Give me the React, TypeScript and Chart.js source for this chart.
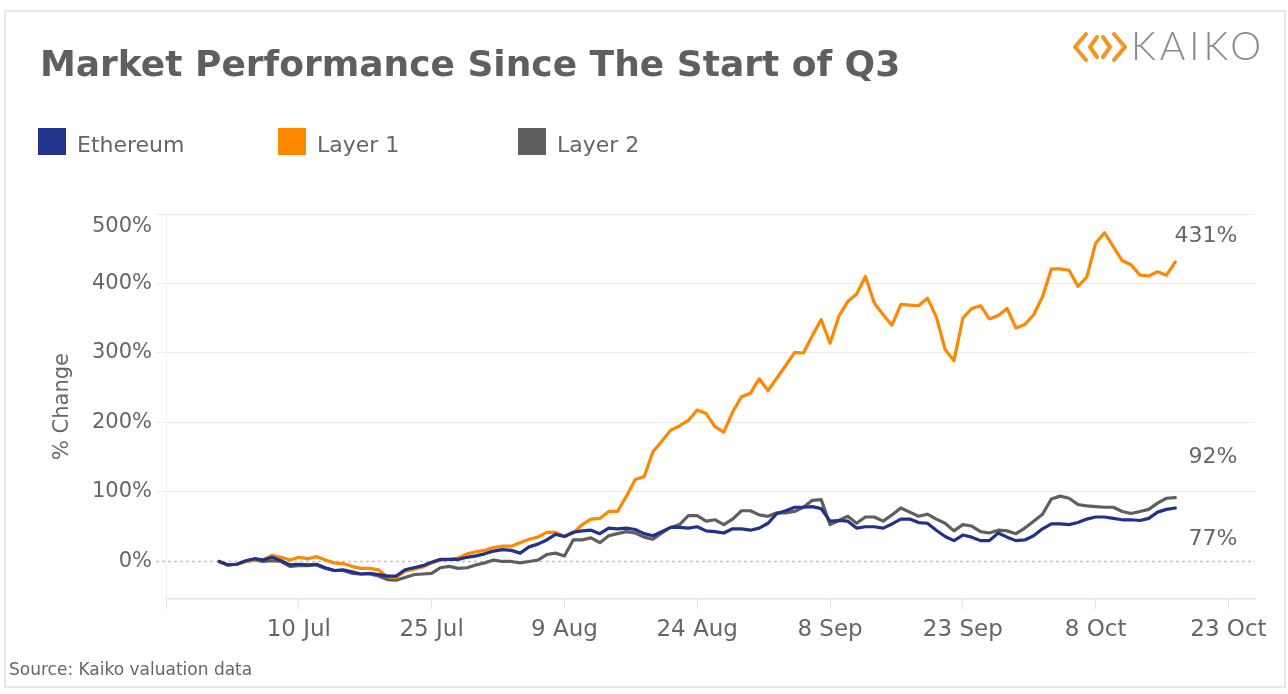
import React, { useEffect, useRef } from 'react';
import { Chart, registerables } from 'chart.js';

Chart.register(...registerables);

// Day offsets relative to 1 Jul (day 0); data are daily from 1 Jul to 17 Oct
const tickDays = [-6, 9, 24, 39, 54, 69, 84, 99, 114];
const tickLabels = ['', '10 Jul', '25 Jul', '9 Aug', '24 Aug', '8 Sep', '23 Sep', '8 Oct', '23 Oct'];
const yTicks = [0, 100, 200, 300, 400, 500];

const seriesNames = ['Ethereum', 'Layer 1', 'Layer 2'];
const seriesColors = ['#22318a', '#ff8800', '#5f5f5f'];

const ethereum = [
  0, -5, -4, 1, 4, 2, 6, 1, -5, -4,
  -5, -4, -9, -13, -12, -15, -18, -17, -19, -21,
  -21, -12, -9, -6, -1, 3, 3, 3, 6, 8,
  11, 15, 17, 16, 12, 21, 25, 31, 39, 36,
  42, 44, 45, 40, 48, 47, 48, 46, 40, 37,
  43, 49, 49, 48, 50, 44, 43, 41, 47, 47,
  45, 48, 55, 69, 73, 78, 78, 79, 76, 58,
  59, 58, 48, 50, 50, 48, 54, 61, 61, 56,
  55, 45, 36, 30, 38, 35, 30, 30, 41, 35,
  30, 31, 37, 47, 54, 54, 53, 56, 61, 64,
  64, 62, 60, 60, 59, 62, 71, 75, 77,
];

const layer1 = [
  0, -5, -4, 0, 2, 3, 9, 6, 2, 6,
  4, 7, 2, -2, -3, -7, -10, -10, -12, -22,
  -23, -14, -11, -8, -2, 2, 3, 5, 11, 14,
  16, 20, 22, 22, 27, 32, 35, 42, 42, 36,
  41, 53, 61, 62, 72, 72, 94, 118, 122, 158,
  173, 189, 195, 203, 218, 213, 194, 186, 215, 237,
  242, 263, 246, 264, 282, 301, 300, 325, 348, 314,
  353, 374, 385, 410, 372, 355, 340, 370, 369, 368,
  379, 352, 305, 289, 350, 364, 368, 349, 354, 364,
  336, 341, 355, 381, 421, 421, 419, 396, 409, 458,
  473, 453, 433, 427, 412, 411, 417, 412, 431,
];

const layer2 = [
  0, -5, -4, 0, 2, 0, 1, 0, -7, -6,
  -6, -5, -10, -13, -13, -17, -18, -18, -21, -26,
  -27, -23, -19, -18, -17, -9, -7, -10, -9, -5,
  -2, 2, 0, 0, -2, 0, 2, 10, 12, 8,
  31, 31, 34, 27, 37, 40, 43, 41, 35, 32,
  41, 49, 53, 66, 66, 58, 60, 53, 61, 73,
  73, 67, 65, 70, 70, 72, 78, 88, 89, 53,
  59, 65, 55, 64, 64, 58, 67, 77, 71, 65,
  68, 61, 55, 44, 53, 51, 43, 41, 45, 44,
  40, 48, 58, 68, 90, 94, 91, 82, 80, 79,
  78, 78, 72, 69, 72, 75, 84, 91, 92,
];

const seriesValues = [ethereum, layer1, layer2];

const FONT = '"DejaVu Sans", "Liberation Sans", sans-serif';
const TEXT = '#666666';

const endLabelOffsets = [31, -26, -40];

const zeroLinePlugin = {
  id: 'zeroLine',
  beforeDatasetsDraw(chart: any) {
    const { ctx, chartArea } = chart;
    const y = Math.round(chart.scales.y.getPixelForValue(0)) + 0.5;
    ctx.save();
    ctx.strokeStyle = '#c2c2c2';
    ctx.lineWidth = 1.5;
    ctx.setLineDash([3, 3]);
    ctx.beginPath();
    ctx.moveTo(chartArea.left - 10, y);
    ctx.lineTo(chartArea.right, y);
    ctx.stroke();
    ctx.restore();
  },
};

const endLabelPlugin = {
  id: 'endLabels',
  afterDatasetsDraw(chart: any) {
    const { ctx } = chart;
    const xs = chart.scales.x;
    const ys = chart.scales.y;
    chart.data.datasets.forEach((ds: any, i: number) => {
      const last = ds.data[ds.data.length - 1];
      const px = xs.getPixelForValue(last.x);
      const py = ys.getPixelForValue(last.y);
      ctx.save();
      ctx.font = `22px ${FONT}`;
      ctx.fillStyle = TEXT;
      ctx.textAlign = 'right';
      ctx.textBaseline = 'middle';
      ctx.fillText(`${last.y}%`, px + 62, py + endLabelOffsets[i]);
      ctx.restore();
    });
  },
};

const legendX = [38, 278, 518];

export default function App() {
  const ref = useRef<HTMLCanvasElement>(null);

  useEffect(() => {
    if (!ref.current) return;
    const datasets = seriesNames.map((name, i) => ({
      label: name,
      data: seriesValues[i].map((v, d) => ({ x: d, y: v })),
      borderColor: seriesColors[i],
      backgroundColor: seriesColors[i],
      borderWidth: 3.2,
      pointRadius: 0,
      tension: 0,
      fill: false,
      borderJoinStyle: 'round' as const,
      borderCapStyle: 'round' as const,
    }));
    const chart = new Chart(ref.current, {
      type: 'line',
      data: { datasets },
      options: {
        responsive: false,
        animation: false,
        layout: { padding: { left: 46, top: 214, right: 33, bottom: 45 } },
        plugins: {
          legend: { display: false },
          title: { display: false },
          tooltip: { enabled: false },
        },
        scales: {
          x: {
            type: 'linear',
            min: tickDays[0],
            max: 117,
            afterBuildTicks: (s: any) => {
              s.ticks = tickDays.map((v) => ({ value: v }));
            },
            afterFit: (s: any) => {
              s.height = 50;
            },
            ticks: {
              autoSkip: false,
              maxRotation: 0,
              padding: 7,
              color: TEXT,
              font: { family: FONT, size: 23 },
              callback: (v: any) => {
                const k = tickDays.indexOf(Number(v));
                return k >= 0 ? tickLabels[k] : '';
              },
            },
            grid: {
              drawOnChartArea: false,
              drawTicks: true,
              tickLength: 10,
              tickColor: '#e4e4e4',
              color: '#e4e4e4',
            },
            border: { display: true, color: '#e6e6e6', width: 1.5 },
          },
          y: {
            min: -54,
            max: 500,
            afterBuildTicks: (s: any) => {
              s.ticks = yTicks.map((v) => ({ value: v }));
            },
            afterFit: (s: any) => {
              s.width = 120;
            },
            ticks: {
              padding: 4,
              color: TEXT,
              font: { family: FONT, size: 21 },
              callback: (v: any) =>
                Number(v) === yTicks[yTicks.length - 1] ? ['', `${v}%`] : `${v}%`,
            },
            grid: {
              drawTicks: true,
              tickLength: 10,
              lineWidth: 1,
              color: (c: any) => (c.tick && c.tick.value === 0 ? 'rgba(0,0,0,0)' : '#ebebeb'),
              tickColor: (c: any) => (c.tick && c.tick.value === 0 ? 'rgba(0,0,0,0)' : '#ebebeb'),
            },
            border: { display: true, color: '#efefef', width: 1 },
            title: {
              display: true,
              text: '% Change',
              color: TEXT,
              font: { family: FONT, size: 21 },
              padding: { top: 4, bottom: 4 },
            },
          },
        },
      },
      plugins: [zeroLinePlugin, endLabelPlugin],
    });
    return () => chart.destroy();
  }, []);

  return (
    <div
      style={{
        position: 'absolute',
        left: 0,
        top: 0,
        width: 1288,
        height: 694,
        overflow: 'hidden',
        background: '#ffffff',
        fontFamily: FONT,
      }}
    >
      <div
        style={{
          position: 'absolute',
          left: 4,
          top: 10,
          width: 1278,
          height: 674,
          border: '2px solid #e6e6e6',
        }}
      />
      <canvas
        ref={ref}
        width={1288}
        height={694}
        style={{ position: 'absolute', left: 0, top: 0, width: 1288, height: 694 }}
      />
      <div
        style={{
          position: 'absolute',
          left: 40,
          top: 46,
          fontSize: 36,
          lineHeight: '36px',
          fontWeight: 'bold',
          color: '#5f5f5f',
          whiteSpace: 'nowrap',
        }}
      >
        Market Performance Since The Start of Q3
      </div>
      <svg
        style={{ position: 'absolute', left: 1071, top: 30, width: 58, height: 34 }}
        viewBox="0 0 58 34"
      >
        <g fill="none" stroke="#f7931e" strokeWidth={4} strokeLinejoin="round" strokeLinecap="round">
          <path d="M15 4 L4 17 L15 30" />
          <path d="M43 4 L54 17 L43 30" />
          <path d="M26 7 L19 17 L26 27" />
          <path d="M32 7 L39 17 L32 27" />
        </g>
      </svg>
      <div
        style={{
          position: 'absolute',
          left: 1131,
          top: 26,
          fontFamily: 'Lato, "Open Sans", sans-serif',
          fontWeight: 300,
          fontSize: 39,
          lineHeight: '39px',
          letterSpacing: 4,
          color: '#8a8a8a',
          whiteSpace: 'nowrap',
        }}
      >
        KAIKO
      </div>
      {seriesNames.map((name, i) => (
        <React.Fragment key={name}>
          <div
            style={{
              position: 'absolute',
              left: legendX[i],
              top: 128,
              width: 28,
              height: 27,
              background: seriesColors[i],
            }}
          />
          <div
            style={{
              position: 'absolute',
              left: legendX[i] + 39,
              top: 131,
              fontSize: 22,
              lineHeight: '27px',
              color: TEXT,
              whiteSpace: 'nowrap',
            }}
          >
            {name}
          </div>
        </React.Fragment>
      ))}
      <div
        style={{
          position: 'absolute',
          left: 9,
          top: 659,
          fontSize: 17,
          lineHeight: '20px',
          color: TEXT,
          whiteSpace: 'nowrap',
        }}
      >
        Source: Kaiko valuation data
      </div>
    </div>
  );
}
